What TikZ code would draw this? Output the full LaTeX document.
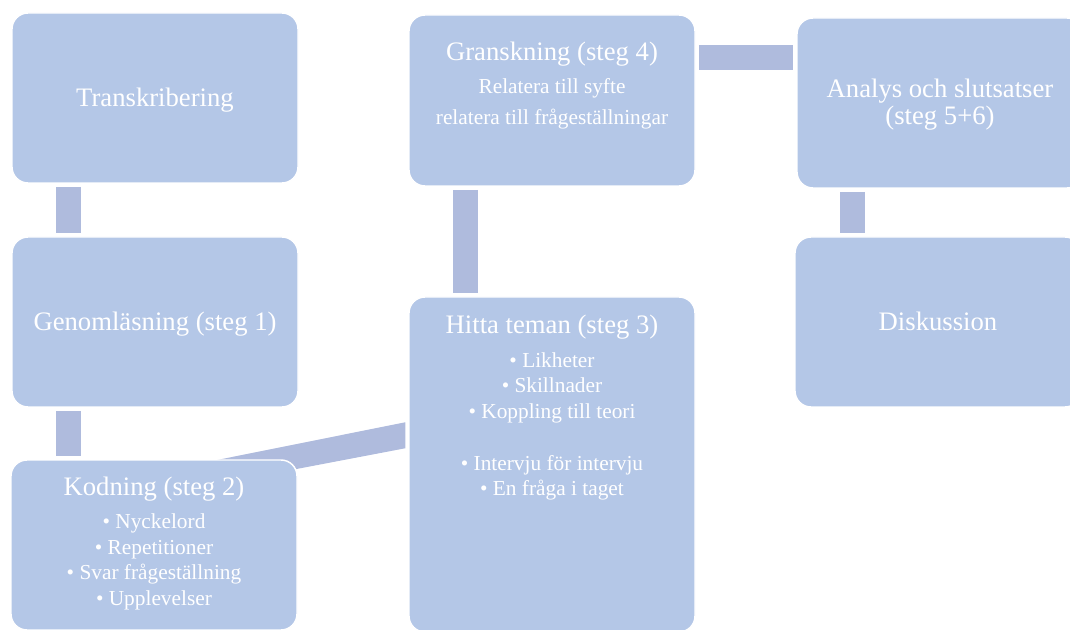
\documentclass[tikz,border=0pt]{standalone}
\usepackage{fontspec}
\setmainfont{Liberation Serif}
\usetikzlibrary{calc,backgrounds}
\definecolor{boxblue}{HTML}{B4C7E7}
\definecolor{barblue}{HTML}{AFBBDD}
\newcommand{\boxtitle}[1]{{\fontsize{20}{24}\selectfont #1}}
\tikzset{
  box/.style={rectangle, rounded corners=12pt, fill=boxblue, draw=white, line width=1.1pt,
    minimum width=214.5pt, minimum height=127.5pt, inner sep=0pt, text=white, align=center,
    text depth=1.8pt, font=\fontsize{20}{24}\selectfont},
  boxtext/.style={anchor=north, inner sep=0pt, text=white, align=center,
    font=\fontsize{16}{19.2}\selectfont},
  link/.style={draw=barblue, line width=18.75pt, shorten <=2.4pt, shorten >=2.4pt}
}
\begin{document}
\begin{tikzpicture}[x=0.75pt,y=-0.75pt]
\useasboundingbox (0,0) rectangle (1070,630);
\clip (0,0) rectangle (1070,630);

\node[box] (trans) at (155,98) {Transkribering};
\node[box] (genom) at (155,322) {Genomläsning (steg 1)};
\node[box] (kod) at (154,545) {};
\node[box, minimum height=128.25pt] (gran) at (552,100.5) {};
\node[box, minimum height=251.25pt] (hitta) at (552,464.5) {};
\node[box, font=\fontsize{20}{20.2}\selectfont] (ana) at (940,103) {Analys och slutsatser\\(steg 5+6)};
\node[box] (disk) at (938,322) {Diskussion};

\node[boxtext] (kodtext) at ($(kod.north)+(0,17)$) {\boxtitle{Kodning (steg 2)}\\[6.1pt]
  • Nyckelord\\ • Repetitioner\\ • Svar frågeställning\\ • Upplevelser};
\node[boxtext] (hittatext) at ($(hitta.north)+(0,18.5)$) {\boxtitle{Hitta teman (steg 3)}\\[6.1pt]
  • Likheter\\ • Skillnader\\ • Koppling till teori\\[19.6pt] • Intervju för intervju\\ • En fråga i taget};
\node[boxtext] (grantext) at ($(gran.north)+(0,27)$) {\boxtitle{Granskning (steg 4)}\\[6.1pt]
  Relatera till syfte\\[3.8pt] relatera till frågeställningar};

\begin{scope}[on background layer]
\draw[link] ($(trans.south west)+(57.5,0)$) coordinate (c1) -- (c1 |- genom.north);
\draw[link] ($(genom.south west)+(57.5,0)$) coordinate (c2) -- (c2 |- kod.north);
\draw[link] ($(gran.south west)+(57.5,0)$) coordinate (c3) -- (c3 |- hitta.north);
\draw[link] ($(gran.north east)+(0,43)$) coordinate (c4) -- (c4 -| ana.west);
\draw[link] ($(ana.south west)+(56,0)$) coordinate (c5) -- (c5 |- disk.north);
\fill[barblue] ($(kod.north east)+(-97,4)$) -- ($(hitta.north west)+(-3,126)$)
  -- ($(hitta.north west)+(-3,152)$) -- ($(kod.north east)+(-97,28)$) -- cycle;
\end{scope}
\end{tikzpicture}
\end{document}
